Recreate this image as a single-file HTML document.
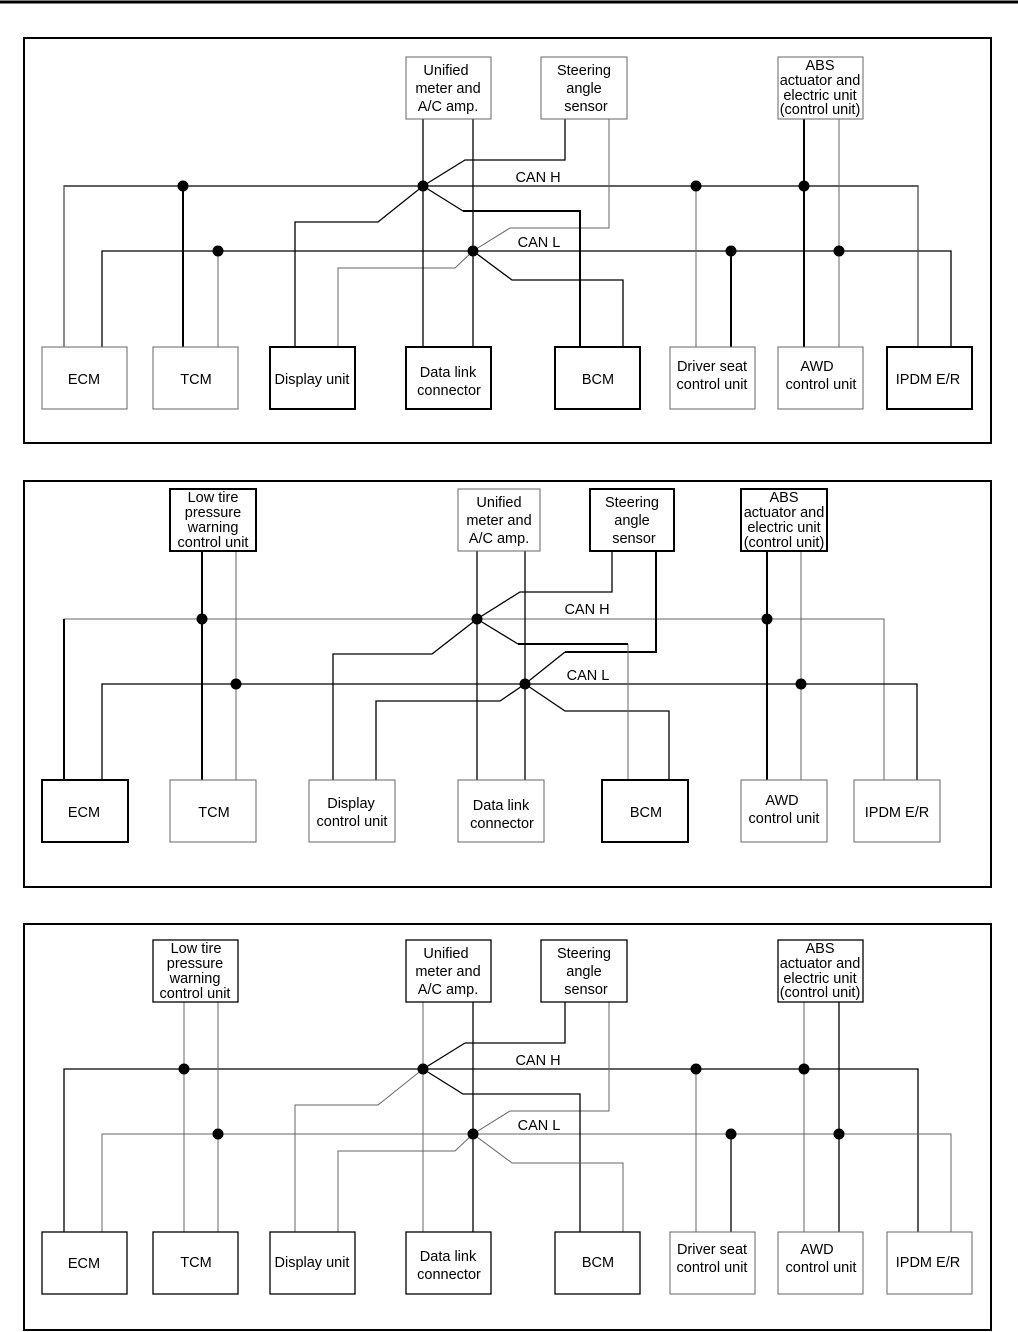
<!DOCTYPE html>
<html><head><meta charset="utf-8"><style>
html,body{margin:0;padding:0;background:#fff}
svg{display:block}
text{font-family:"Liberation Sans",sans-serif;font-size:14.5px;fill:#000;text-anchor:middle}
.t{stroke:#666;stroke-width:1;fill:none}
.m{stroke:#000;stroke-width:1.3;fill:none}
.k{stroke:#000;stroke-width:2;fill:none}
.bt{stroke:#666;stroke-width:1;fill:#fff}
.bm{stroke:#000;stroke-width:1.3;fill:#fff}
.bk{stroke:#000;stroke-width:2;fill:#fff}
.fr{stroke:#000;stroke-width:2;fill:none}
</style></head><body>
<svg width="1018" height="1332" viewBox="0 0 1018 1332" xmlns="http://www.w3.org/2000/svg">
<line x1="0" y1="2" x2="1018" y2="2" stroke="#000" stroke-width="3"/>

<!-- ===== Diagram 1 ===== -->
<rect class="fr" x="24" y="38" width="967" height="405"/>
<polyline class="m" points="64,347 64,186 918,186 918,347"/>
<polyline class="m" points="102,347 102,251 951,251 951,347"/>
<line class="t" x1="64" y1="186" x2="64" y2="347"/>
<line class="t" x1="918" y1="186" x2="918" y2="347"/>
<line class="k" x1="183" y1="186" x2="183" y2="347"/>
<line class="t" x1="218" y1="251" x2="218" y2="347"/>
<polyline class="m" points="295,347 295,222 378,222 423,186 465,160 565,160 565,119"/>
<polyline class="t" points="338,347 338,268 455,268 473,251 510,228 609,228 609,119"/>
<line class="m" x1="423" y1="119" x2="423" y2="347"/>
<line class="m" x1="473" y1="119" x2="473" y2="347"/>
<polyline class="k" points="580,347 580,211 463,211"/>
<line class="m" x1="463" y1="211" x2="423" y2="186"/>
<polyline class="m" points="623,347 623,280 512,280 473,251"/>
<line class="t" x1="696" y1="186" x2="696" y2="347"/>
<line class="k" x1="731" y1="251" x2="731" y2="347"/>
<line class="k" x1="804" y1="119" x2="804" y2="347"/>
<line class="t" x1="839" y1="119" x2="839" y2="347"/>
<g fill="#000"><circle cx="183" cy="186" r="5.5"/><circle cx="423" cy="186" r="5.5"/><circle cx="696" cy="186" r="5.5"/><circle cx="804" cy="186" r="5.5"/>
<circle cx="218" cy="251" r="5.5"/><circle cx="473" cy="251" r="5.5"/><circle cx="731" cy="251" r="5.5"/><circle cx="839" cy="251" r="5.5"/></g>
<text x="538" y="182">CAN H</text><text x="539" y="247">CAN L</text>
<rect class="bt" x="406" y="57" width="85" height="62"/><text x="446" y="75">Unified</text><text x="448" y="93">meter and</text><text x="448" y="111">A/C amp.</text>
<rect class="bt" x="541" y="57" width="86" height="62"/><text x="584" y="75">Steering</text><text x="584" y="93">angle</text><text x="586" y="111">sensor</text>
<rect class="bt" x="778" y="57" width="85" height="62"/><g style="font-size:12.5px"><text x="820" y="70">ABS</text><text x="820" y="85">actuator and</text><text x="820" y="100">electric unit</text><text x="820" y="114">(control unit)</text></g>
<rect class="bt" x="42" y="347" width="85" height="62"/><text x="84" y="384">ECM</text>
<rect class="bt" x="153" y="347" width="85" height="62"/><text x="196" y="384">TCM</text>
<rect class="bk" x="270" y="347" width="85" height="62"/><text x="312" y="384">Display unit</text>
<rect class="bk" x="406" y="347" width="85" height="62"/><text x="448" y="377">Data link</text><text x="449" y="395">connector</text>
<rect class="bk" x="555" y="347" width="85" height="62"/><text x="598" y="384">BCM</text>
<rect class="bt" x="670" y="347" width="85" height="62"/><text x="712" y="371">Driver seat</text><text x="712" y="389">control unit</text>
<rect class="bt" x="778" y="347" width="85" height="62"/><text x="817" y="371">AWD</text><text x="821" y="389">control unit</text>
<rect class="bk" x="887" y="347" width="85" height="62"/><text x="928" y="384">IPDM E/R</text>

<!-- ===== Diagram 2 ===== -->
<rect class="fr" x="24" y="481" width="967" height="406"/>
<polyline class="t" points="64,780 64,619 884,619 884,780"/>
<polyline class="m" points="102,780 102,684 917,684 917,780"/>
<line class="k" x1="64" y1="619" x2="64" y2="780"/>
<line class="k" x1="202" y1="551" x2="202" y2="780"/>
<line class="t" x1="236" y1="551" x2="236" y2="780"/>
<polyline class="m" points="333,780 333,654 432,654 477,619 520,592 612,592 612,551"/>
<polyline class="m" points="376,780 376,701 500,701 525,684"/>
<polyline class="k" points="656,551 656,652 565,652"/>
<line class="m" x1="565" y1="652" x2="525" y2="684"/>
<polyline class="m" points="525,684 565,711 669,711 669,780"/>
<line class="t" x1="628" y1="644" x2="628" y2="780"/>
<line class="k" x1="518" y1="644" x2="628" y2="644"/>
<line class="m" x1="518" y1="644" x2="477" y2="619"/>
<line class="m" x1="477" y1="551" x2="477" y2="780"/>
<line class="m" x1="525" y1="551" x2="525" y2="780"/>
<line class="k" x1="767" y1="551" x2="767" y2="780"/>
<line class="t" x1="801" y1="551" x2="801" y2="780"/>
<g fill="#000"><circle cx="202" cy="619" r="5.5"/><circle cx="477" cy="619" r="5.5"/><circle cx="767" cy="619" r="5.5"/>
<circle cx="236" cy="684" r="5.5"/><circle cx="525" cy="684" r="5.5"/><circle cx="801" cy="684" r="5.5"/></g>
<text x="587" y="614">CAN H</text><text x="588" y="680">CAN L</text>
<rect class="bk" x="170" y="489" width="86" height="62"/><g style="font-size:13px"><text x="213" y="502">Low tire</text><text x="213" y="517">pressure</text><text x="213" y="532">warning</text><text x="213" y="547">control unit</text></g>
<rect class="bt" x="458" y="489" width="82" height="62"/><text x="499" y="507">Unified</text><text x="499" y="525">meter and</text><text x="499" y="543">A/C amp.</text>
<rect class="bk" x="590" y="489" width="84" height="62"/><text x="632" y="507">Steering</text><text x="632" y="525">angle</text><text x="634" y="543">sensor</text>
<rect class="bk" x="741" y="489" width="86" height="62"/><g style="font-size:12.5px"><text x="784" y="502">ABS</text><text x="784" y="517">actuator and</text><text x="784" y="532">electric unit</text><text x="784" y="547">(control unit)</text></g>
<rect class="bk" x="42" y="780" width="86" height="62"/><text x="84" y="817">ECM</text>
<rect class="bt" x="170" y="780" width="86" height="62"/><text x="214" y="817">TCM</text>
<rect class="bt" x="309" y="780" width="86" height="62"/><text x="351" y="808">Display</text><text x="352" y="826">control unit</text>
<rect class="bt" x="458" y="780" width="86" height="62"/><text x="501" y="810">Data link</text><text x="502" y="828">connector</text>
<rect class="bk" x="602" y="780" width="86" height="62"/><text x="646" y="817">BCM</text>
<rect class="bt" x="741" y="780" width="86" height="62"/><text x="782" y="805">AWD</text><text x="784" y="823">control unit</text>
<rect class="bt" x="854" y="780" width="86" height="62"/><text x="897" y="817">IPDM E/R</text>

<!-- ===== Diagram 3 ===== -->
<rect class="fr" x="24" y="924" width="967" height="406"/>
<polyline class="m" points="64,1232 64,1069 918,1069 918,1232"/>
<polyline class="t" points="102,1232 102,1134 951,1134 951,1232"/>
<line class="t" x1="184" y1="1002" x2="184" y2="1232"/>
<line class="t" x1="218" y1="1002" x2="218" y2="1232"/>
<polyline class="t" points="295,1232 295,1105 378,1105 423,1069"/>
<line class="m" x1="423" y1="1069" x2="465" y2="1043"/>
<polyline class="m" points="465,1043 565,1043 565,1002"/>
<polyline class="t" points="338,1232 338,1151 455,1151 473,1134 510,1111 609,1111 609,1002"/>
<line class="t" x1="423" y1="1002" x2="423" y2="1232"/>
<line class="m" x1="473" y1="1002" x2="473" y2="1232"/>
<polyline class="m" points="580,1232 580,1094 463,1094 423,1069"/>
<polyline class="t" points="623,1232 623,1163 512,1163 473,1134"/>
<line class="t" x1="696" y1="1069" x2="696" y2="1232"/>
<line class="m" x1="731" y1="1134" x2="731" y2="1232"/>
<line class="t" x1="804" y1="1002" x2="804" y2="1232"/>
<line class="m" x1="839" y1="1002" x2="839" y2="1232"/>
<g fill="#000"><circle cx="184" cy="1069" r="5.5"/><circle cx="423" cy="1069" r="5.5"/><circle cx="696" cy="1069" r="5.5"/><circle cx="804" cy="1069" r="5.5"/>
<circle cx="218" cy="1134" r="5.5"/><circle cx="473" cy="1134" r="5.5"/><circle cx="731" cy="1134" r="5.5"/><circle cx="839" cy="1134" r="5.5"/></g>
<text x="538" y="1065">CAN H</text><text x="539" y="1130">CAN L</text>
<rect class="bm" x="153" y="940" width="85" height="62"/><g style="font-size:13px"><text x="196" y="953">Low tire</text><text x="195" y="968">pressure</text><text x="195" y="983">warning</text><text x="195" y="998">control unit</text></g>
<rect class="bm" x="406" y="940" width="85" height="62"/><text x="446" y="958">Unified</text><text x="448" y="976">meter and</text><text x="448" y="994">A/C amp.</text>
<rect class="bm" x="541" y="940" width="86" height="62"/><text x="584" y="958">Steering</text><text x="584" y="976">angle</text><text x="586" y="994">sensor</text>
<rect class="bm" x="778" y="940" width="85" height="62"/><g style="font-size:12.5px"><text x="820" y="953">ABS</text><text x="820" y="968">actuator and</text><text x="820" y="983">electric unit</text><text x="820" y="997">(control unit)</text></g>
<rect class="bm" x="42" y="1232" width="85" height="62"/><text x="84" y="1268">ECM</text>
<rect class="bm" x="153" y="1232" width="85" height="62"/><text x="196" y="1267">TCM</text>
<rect class="bm" x="270" y="1232" width="85" height="62"/><text x="312" y="1267">Display unit</text>
<rect class="bm" x="406" y="1232" width="85" height="62"/><text x="448" y="1261">Data link</text><text x="449" y="1279">connector</text>
<rect class="bm" x="555" y="1232" width="85" height="62"/><text x="598" y="1267">BCM</text>
<rect class="bt" x="670" y="1232" width="85" height="62"/><text x="712" y="1254">Driver seat</text><text x="712" y="1272">control unit</text>
<rect class="bt" x="778" y="1232" width="85" height="62"/><text x="817" y="1254">AWD</text><text x="821" y="1272">control unit</text>
<rect class="bt" x="887" y="1232" width="85" height="62"/><text x="928" y="1267">IPDM E/R</text>
</svg>
</body></html>
